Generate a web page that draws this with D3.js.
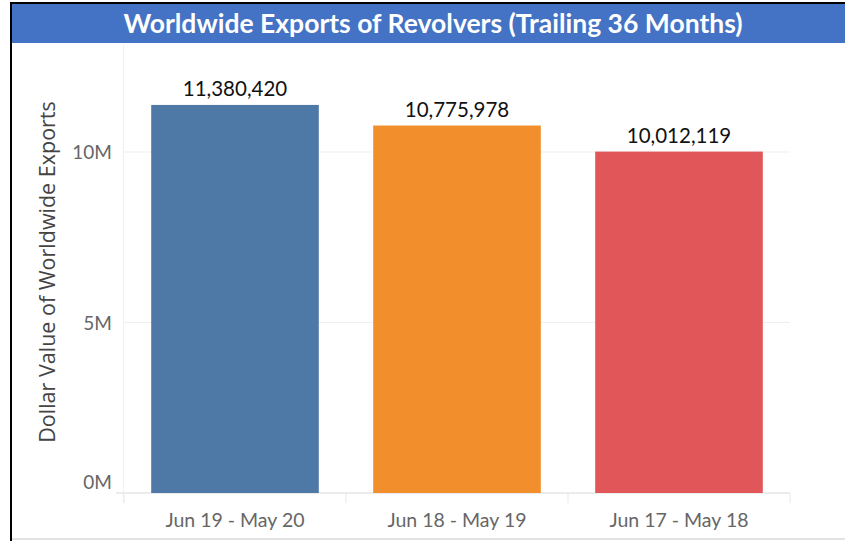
<!DOCTYPE html>
<html>
<head>
<meta charset="utf-8">
<script src="https://cdn.jsdelivr.net/npm/d3@7"></script>
<style>
  body { margin: 0; background: #fff; }
  svg { display: block; }
</style>
</head>
<body>
<script>
// chart data
var periods = ["Jun 19 - May 20", "Jun 18 - May 19", "Jun 17 - May 18"];
var exportValues = [11380420, 10775978, 10012119];
var barColors = ["#4e79a7", "#f28e2b", "#e15759"];
var yTicks = [0, 5000000, 10000000];
var yTickLabels = ["0M", "5M", "10M"];

var width = 845,
    height = 541;

var svg = d3.select("body")
    .append("svg")
    .attr("width", width)
    .attr("height", height);

// frame: black top/left edges and a gray bottom line
svg.append("rect").attr("x", 10).attr("y", 2).attr("width", width - 10).attr("height", 2).attr("fill", "#000");
svg.append("rect").attr("x", 10).attr("y", 2).attr("width", 2).attr("height", height - 2).attr("fill", "#000");
svg.append("rect").attr("x", 12).attr("y", 538).attr("width", width - 12).attr("height", 2).attr("fill", "#e3e3e3");

// title bar
svg.append("rect")
    .attr("x", 12).attr("y", 4)
    .attr("width", width - 12).attr("height", 39)
    .attr("fill", "#4472c4");

svg.append("text")
    .attr("x", 433).attr("y", 33)
    .attr("text-anchor", "middle")
    .attr("fill", "#fff")
    .style("font-family", "Lato, sans-serif")
    .style("font-weight", "bold")
    .style("font-size", "26.5px")
    .text("Worldwide Exports of Revolvers (Trailing 36 Months)");

// scales
var x = d3.scaleBand()
    .domain(periods)
    .range([124, 790])
    .paddingInner(0.245)
    .paddingOuter(0.1225);

var y = d3.scaleLinear()
    .domain([0, 10000000])
    .range([493, 152]);

// gridlines
svg.append("g")
    .selectAll("line")
    .data(yTicks)
    .enter()
    .append("line")
    .attr("x1", function(d){ return d === 0 ? 116 : 123; })
    .attr("x2", 790)
    .attr("y1", function(d){ return y(d); })
    .attr("y2", function(d){ return y(d); })
    .attr("stroke", function(d){ return d === 0 ? "#e6e6e6" : "#efefef"; })
    .attr("stroke-width", function(d){ return d === 0 ? 1.5 : 1; });

// vertical axis line
svg.append("line")
    .attr("x1", 123.5).attr("x2", 123.5)
    .attr("y1", 45).attr("y2", 503)
    .attr("stroke", "#f0f0f0");

// x tick dividers
var dividers = periods.map(function(p){ return x(p) - x.step() * x.paddingInner() / 2; });
dividers.push(790);
svg.append("g")
    .selectAll("line")
    .data(dividers)
    .enter()
    .append("line")
    .attr("x1", function(d){ return d; })
    .attr("x2", function(d){ return d; })
    .attr("y1", 493)
    .attr("y2", 503)
    .attr("stroke", "#e8e8e8");

// bars
svg.append("g")
    .selectAll("rect")
    .data(exportValues)
    .enter()
    .append("rect")
    .attr("x", function(d, i){ return x(periods[i]); })
    .attr("y", function(d){ return y(d); })
    .attr("width", x.bandwidth())
    .attr("height", function(d){ return y(0) - y(d); })
    .attr("fill", function(d, i){ return barColors[i]; });

// value labels
svg.append("g")
    .selectAll("text")
    .data(exportValues)
    .enter()
    .append("text")
    .attr("x", function(d, i){ return x(periods[i]) + x.bandwidth() / 2; })
    .attr("y", function(d){ return y(d) - 9; })
    .attr("text-anchor", "middle")
    .attr("fill", "#111")
    .style("font-family", "Lato, sans-serif")
    .style("font-size", "20.5px")
    .text(d3.format(","));

// y tick labels
svg.append("g")
    .selectAll("text")
    .data(yTicks)
    .enter()
    .append("text")
    .attr("x", 112)
    .attr("y", function(d){ return d === 0 ? y(d) - 4 : y(d) + 7; })
    .attr("text-anchor", "end")
    .attr("fill", "#666")
    .style("font-family", "Lato, sans-serif")
    .style("font-size", "19px")
    .text(function(d, i){ return yTickLabels[i]; });

// x tick labels
svg.append("g")
    .selectAll("text")
    .data(periods)
    .enter()
    .append("text")
    .attr("x", function(d){ return x(d) + x.bandwidth() / 2; })
    .attr("y", 527)
    .attr("text-anchor", "middle")
    .attr("fill", "#666")
    .style("font-family", "Lato, sans-serif")
    .style("font-size", "19.5px")
    .text(function(d){ return d; });

// y axis title
svg.append("text")
    .attr("transform", "translate(55,272) rotate(-90)")
    .attr("text-anchor", "middle")
    .attr("fill", "#444")
    .style("font-family", "'Open Sans', sans-serif")
    .style("font-size", "21.5px")
    .text("Dollar Value of Worldwide Exports");
</script>
</body>
</html>
